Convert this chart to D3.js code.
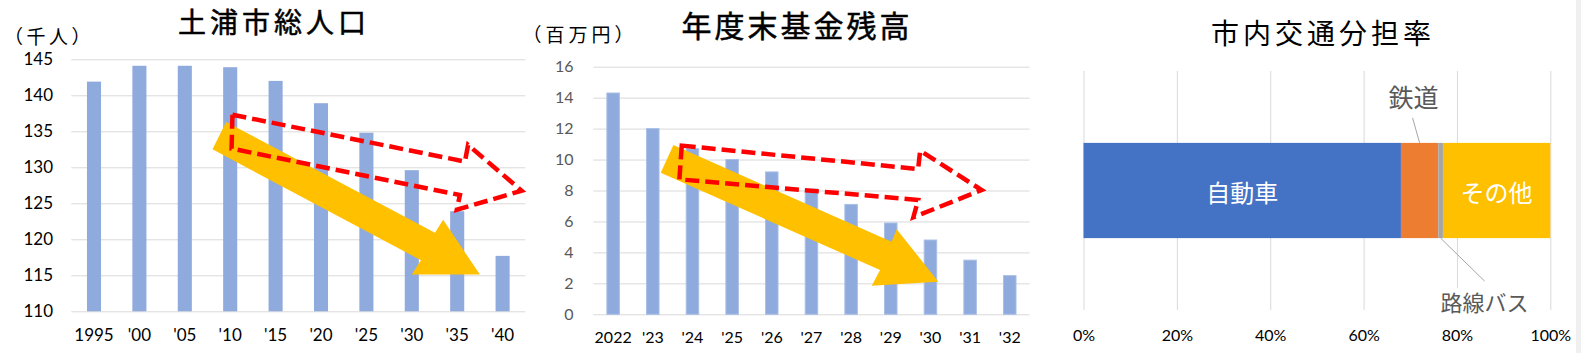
<!DOCTYPE html>
<html>
<head>
<meta charset="utf-8">
<script src="https://cdn.jsdelivr.net/npm/d3@7"></script>
<style>
  body { margin: 0; background: #fff; }
  svg { display: block; }
  .jp { font-family: "Noto Sans CJK JP", sans-serif; }
  .num { font-family: "Lato", "Liberation Sans", sans-serif; }
</style>
</head>
<body>
<script>
// population (thousand people)
const popYears = ["1995", "'00", "'05", "'10", "'15", "'20", "'25", "'30", "'35", "'40"];
const popValues = [141.9, 144.1, 144.1, 143.9, 142.0, 138.9, 134.8, 129.6, 123.9, 117.7];
const popTicks = [110, 115, 120, 125, 130, 135, 140, 145];

// fund balance at year end (million yen)
const fundYears = ["2022", "'23", "'24", "'25", "'26", "'27", "'28", "'29", "'30", "'31", "'32"];
const fundValues = [14.3, 12.0, 10.7, 10.0, 9.2, 8.1, 7.1, 5.9, 4.8, 3.5, 2.5];
const fundTicks = [0, 2, 4, 6, 8, 10, 12, 14, 16];

// modal share
const modeNames = ["自動車", "鉄道", "路線バス", "その他"];
const modeShares = [0.68, 0.08, 0.01, 0.23];
const shareTicks = [0, 0.2, 0.4, 0.6, 0.8, 1];

// arrow shapes, in [category index, value] units of each chart
const popTrendArrow = [[2.91, 136.3], [7.51, 120.9], [7.69, 122.7], [8.50, 115.1], [7.00, 115.1], [7.20, 117.1], [2.61, 132.5]];
const popOutlineArrow = [[3.05, 137.3], [8.17, 130.8], [8.24, 133.1], [9.42, 126.75], [7.99, 124.1], [8.06, 126.15], [3.03, 132.6]];
const fundTrendArrow = [[1.52, 10.94], [7.02, 4.69], [7.15, 5.49], [8.20, 2.11], [6.52, 1.85], [6.73, 2.86], [1.20, 9.15]];
const fundOutlineArrow = [[1.73, 10.9], [7.69, 9.39], [7.74, 10.57], [9.29, 8.03], [7.57, 6.27], [7.69, 7.39], [1.67, 8.72]];

const svg = d3.select("body").append("svg")
  .attr("width", 1581)
  .attr("height", 353);

svg.append("rect").attr("x", 1576).attr("y", 0).attr("width", 5).attr("height", 353).attr("fill", "#f0f0f0");

function barChart(opt) {
  const g = svg.append("g");
  const x = d3.scaleBand()
    .domain(opt.cats)
    .range([opt.left, opt.right])
    .paddingInner(opt.pad)
    .paddingOuter(opt.pad / 2);
  const y = d3.scaleLinear()
    .domain(opt.domain)
    .range([opt.bottom, opt.top]);
  const xi = d3.scaleLinear()
    .domain([-0.5, opt.cats.length - 0.5])
    .range([opt.left, opt.right]);

  // gridlines
  g.append("g")
    .attr("transform", `translate(${opt.left},0)`)
    .call(d3.axisLeft(y).tickValues(opt.ticks).tickSize(-(opt.right - opt.left)).tickFormat(""))
    .call(a => a.select(".domain").remove())
    .call(a => a.selectAll("line").attr("stroke", "#d9d9d9"));

  // y labels
  g.append("g")
    .attr("transform", `translate(${opt.labelX},0)`)
    .call(d3.axisLeft(y).tickValues(opt.ticks).tickSize(0).tickPadding(0))
    .call(a => a.select(".domain").remove())
    .call(a => a.selectAll("text")
      .attr("class", "num")
      .attr("font-size", opt.yFont)
      .attr("fill", opt.yColor));

  // x labels
  g.append("g")
    .attr("transform", `translate(0,${opt.bottom})`)
    .call(d3.axisBottom(x).tickSize(0).tickPadding(opt.xPad))
    .call(a => a.select(".domain").remove())
    .call(a => a.selectAll("text")
      .attr("class", "num")
      .attr("font-size", opt.xFont)
      .attr("fill", "#000"));

  g.selectAll(".bar")
    .data(opt.values)
    .enter()
    .append("rect")
    .attr("x", (d, i) => x(opt.cats[i]))
    .attr("y", d => y(d))
    .attr("width", x.bandwidth())
    .attr("height", d => y(opt.domain[0]) - y(d))
    .attr("fill", "#8faadc")
    .attr("stroke", opt.barStroke || "none")
    .attr("stroke-width", 1);

  const line = d3.line().x(d => xi(d[0])).y(d => y(d[1]));
  g.append("path")
    .attr("d", line(opt.trend) + "Z")
    .attr("fill", "#ffc000");
  g.append("path")
    .attr("d", line(opt.outline) + "Z")
    .attr("fill", "none")
    .attr("stroke", "#ff0000")
    .attr("stroke-width", 4.5)
    .attr("stroke-dasharray", "14 6")
    .attr("stroke-linejoin", "miter");

  g.append("text")
    .attr("class", "jp")
    .attr("x", opt.titleX).attr("y", opt.titleY)
    .attr("text-anchor", "middle")
    .attr("dominant-baseline", "central")
    .attr("font-size", opt.titleFont)
    .attr("letter-spacing", opt.titleSpacing)
    .attr("fill", "#000")
    .attr("stroke", "#000")
    .attr("stroke-width", 0.5)
    .text(opt.title);

  g.append("text")
    .attr("class", "jp")
    .attr("x", opt.unitX).attr("y", opt.unitY)
    .attr("text-anchor", "middle")
    .attr("dominant-baseline", "central")
    .attr("font-size", opt.unitFont)
    .attr("letter-spacing", opt.unitSpacing)
    .attr("fill", "#000")
    .text(opt.unit);
}

barChart({
  cats: popYears, values: popValues, ticks: popTicks, domain: [110, 145],
  left: 71.3, right: 525.3, top: 59.3, bottom: 311.3, pad: 0.69,
  labelX: 53, yFont: 17, yColor: "#000", xFont: 17, xPad: 18,
  trend: popTrendArrow, outline: popOutlineArrow,
  title: "土浦市総人口", titleX: 274, titleY: 21, titleFont: 28, titleSpacing: 4,
  unit: "（千人）", unitX: 49, unitY: 35.5, unitFont: 19, unitSpacing: 3.5
});

barChart({
  cats: fundYears, values: fundValues, ticks: fundTicks, domain: [0, 16],
  left: 593.3, right: 1029.6, top: 66.7, bottom: 314.3, pad: 0.685,
  labelX: 573.5, yFont: 16, yColor: "#595959", xFont: 16, xPad: 17,
  barStroke: "#a9bfe6",
  trend: fundTrendArrow, outline: fundOutlineArrow,
  title: "年度末基金残高", titleX: 797, titleY: 24, titleFont: 30, titleSpacing: 3,
  unit: "（百万円）", unitX: 580, unitY: 33, unitFont: 19, unitSpacing: 4
});

// modal share chart
(function () {
  const g = svg.append("g");
  const left = 1083.5, right = 1550.3, top = 71, bottom = 310;
  const x = d3.scaleLinear().domain([0, 1]).range([left, right]);
  const y = d3.scaleBand().domain(["share"]).range([top, bottom]).paddingOuter(0.755);

  g.append("g")
    .attr("transform", `translate(0,${bottom})`)
    .call(d3.axisBottom(x).tickValues(shareTicks).tickSize(-(bottom - top)).tickFormat(""))
    .call(a => a.select(".domain").remove())
    .call(a => a.selectAll("line").attr("stroke", "#d9d9d9"));

  g.append("g")
    .attr("transform", `translate(0,${bottom})`)
    .call(d3.axisBottom(x).tickValues(shareTicks).tickSize(0).tickPadding(20).tickFormat(d3.format(".0%")))
    .call(a => a.select(".domain").remove())
    .call(a => a.selectAll("text").attr("class", "num").attr("font-size", 16).attr("fill", "#000"));

  const row = {};
  modeNames.forEach((n, i) => row[n] = modeShares[i]);
  const stacked = d3.stack().keys(modeNames)([row]);
  const colors = d3.scaleOrdinal().domain(modeNames).range(["#4472c4", "#ed7d31", "#a5a5a5", "#ffc000"]);

  const y0 = y("share"), h = y.bandwidth();
  g.selectAll(".seg")
    .data(stacked)
    .enter()
    .append("rect")
    .attr("x", d => x(d[0][0]))
    .attr("y", y0)
    .attr("width", d => x(d[0][1]) - x(d[0][0]))
    .attr("height", h)
    .attr("fill", d => colors(d.key));

  const mid = d => (x(d[0][0]) + x(d[0][1])) / 2;

  // labels inside
  g.selectAll(".inlab")
    .data(stacked.filter(d => d.key === "自動車" || d.key === "その他"))
    .enter()
    .append("text")
    .attr("class", "jp")
    .attr("x", mid)
    .attr("y", y0 + h / 2 + 1)
    .attr("text-anchor", "middle")
    .attr("dominant-baseline", "central")
    .attr("font-size", 24)
    .attr("fill", "#fff")
    .text(d => d.key);

  // callout above
  const rail = stacked.find(d => d.key === "鉄道");
  g.append("line")
    .attr("x1", mid(rail)).attr("y1", y0)
    .attr("x2", mid(rail) - 7).attr("y2", y0 - 25)
    .attr("stroke", "#a6a6a6").attr("stroke-width", 1);
  g.append("text")
    .attr("class", "jp")
    .attr("x", mid(rail) - 6).attr("y", y0 - 47)
    .attr("text-anchor", "middle")
    .attr("dominant-baseline", "central")
    .attr("font-size", 25)
    .attr("fill", "#595959")
    .text(rail.key);

  // callout below
  const bus = stacked.find(d => d.key === "路線バス");
  const by = y0 + h;
  g.append("line")
    .attr("x1", mid(bus)).attr("y1", by)
    .attr("x2", mid(bus) + 44).attr("y2", by + 43)
    .attr("stroke", "#a6a6a6").attr("stroke-width", 1);
  g.append("rect")
    .attr("x", mid(bus) + 44 - 46).attr("y", by + 50)
    .attr("width", 92).attr("height", 26)
    .attr("fill", "#fff");
  g.append("text")
    .attr("class", "jp")
    .attr("x", mid(bus) + 44).attr("y", by + 63)
    .attr("text-anchor", "middle")
    .attr("dominant-baseline", "central")
    .attr("font-size", 22)
    .attr("fill", "#595959")
    .text(bus.key);

  g.append("text")
    .attr("class", "jp")
    .attr("x", 1323).attr("y", 32)
    .attr("text-anchor", "middle")
    .attr("dominant-baseline", "central")
    .attr("font-size", 28)
    .attr("letter-spacing", 4)
    .attr("fill", "#000")
    .text("市内交通分担率");
})();
</script>
</body>
</html>
